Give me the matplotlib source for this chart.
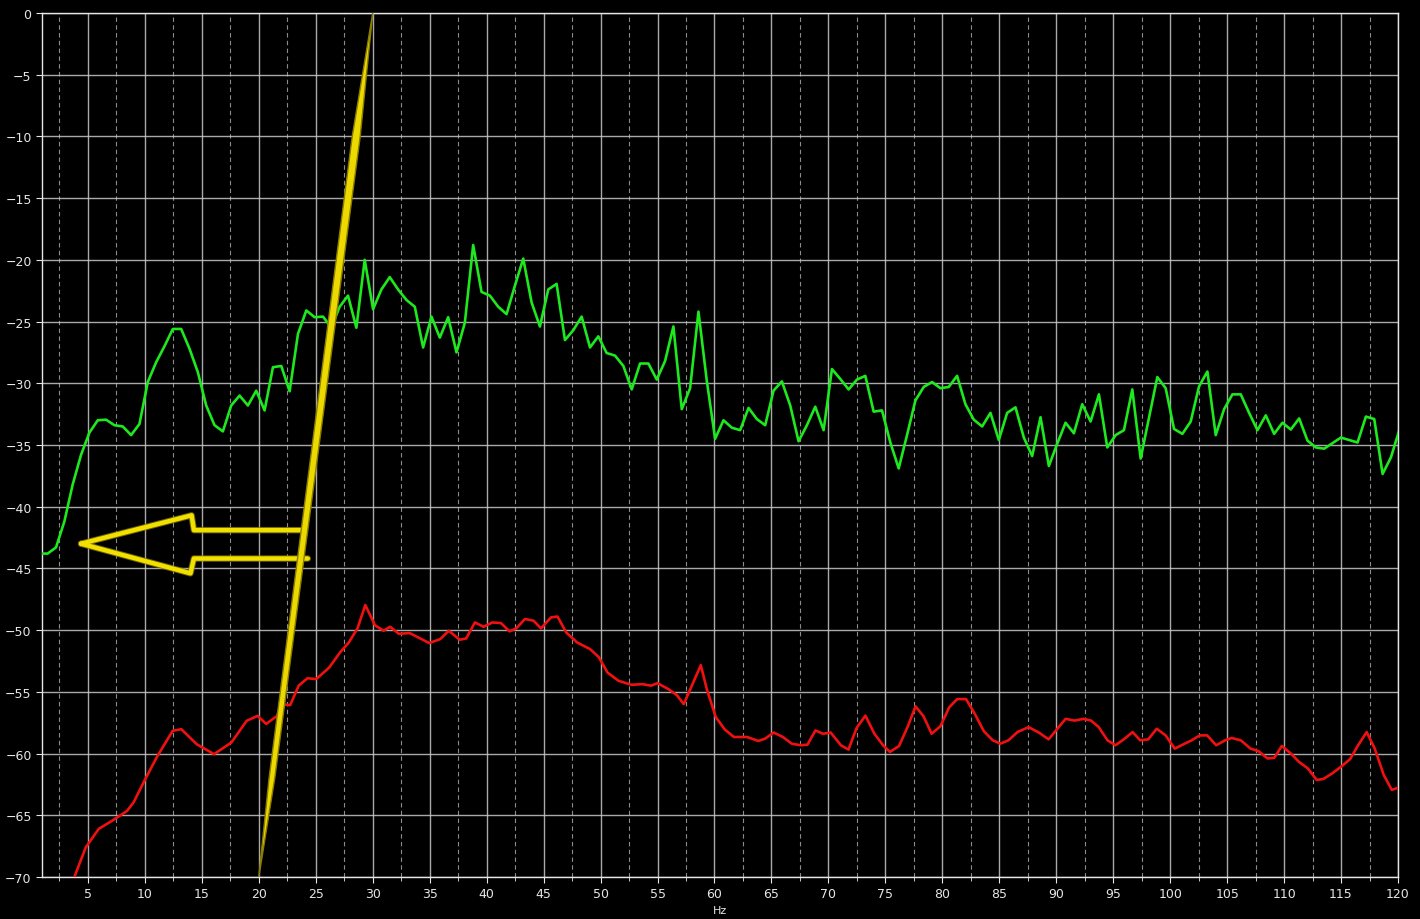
import numpy as np
import matplotlib
matplotlib.use("Agg")
import matplotlib.pyplot as plt
from matplotlib.ticker import MultipleLocator

# spectrum bin width (Hz) of the green trace
BIN_HZ = 0.7324

green_db = [
    -43.8, -43.8, -43.3, -41.2, -38.2, -35.8, -34.0, -33.0, -32.95, -33.4,
    -33.5, -34.2, -33.3, -29.9, -28.3, -27.0, -25.6, -25.6, -27.2, -29.1,
    -31.8, -33.4, -33.9, -31.8, -31.0, -31.8, -30.6, -32.2, -28.7, -28.6,
    -30.65, -26.0, -24.1, -24.65, -24.6, -25.5, -23.8, -22.9, -25.5, -20.0,
    -24.0, -22.4, -21.4, -22.4, -23.25, -23.8, -27.1, -24.6, -26.3, -24.65,
    -27.5, -25.1, -18.8, -22.6, -22.9, -23.8, -24.4, -22.1, -19.9, -23.45,
    -25.4, -22.4, -21.95, -26.5, -25.7, -24.6, -27.1, -26.2, -27.55, -27.76,
    -28.6, -30.5, -28.4, -28.4, -29.7, -28.2, -25.4, -32.1, -30.4, -24.2,
    -29.8, -34.5, -33.0, -33.6, -33.8, -32.0, -32.9, -33.4, -30.6, -29.85,
    -31.8, -34.7, -33.4, -31.9, -33.8, -28.85, -29.65, -30.5, -29.7, -29.4,
    -32.3, -32.2, -34.8, -36.9, -34.2, -31.4, -30.3, -29.9, -30.4, -30.3,
    -29.4, -31.7, -32.95, -33.5, -32.4, -34.6, -32.4, -31.95, -34.4, -35.9,
    -32.75, -36.7, -34.9, -33.2, -34.05, -31.7, -33.1, -30.9, -35.2, -34.2,
    -33.8, -30.5, -36.1, -32.8, -29.5, -30.4, -33.7, -34.1, -33.1, -30.25,
    -29.05, -34.2, -32.1, -30.9, -30.9, -32.4, -33.8, -32.6, -34.1, -33.2,
    -33.75, -32.85, -34.65, -35.2, -35.3, -34.85, -34.4, -34.6, -34.8, -32.7,
    -32.9, -37.35, -36.0, -33.8,
]
green_hz = BIN_HZ * np.arange(1, len(green_db) + 1)

red_hz = [
    3.85, 4.81, 5.95, 7.1, 8.43, 9.0, 9.96, 11.1, 12.44, 13.2,
    14.54, 16.07, 17.6, 18.93, 19.89, 20.65, 21.6, 21.98, 22.75, 23.5,
    24.27, 25.04, 26.18, 27.14, 27.9, 28.66, 29.35, 30.19, 30.95, 31.53,
    32.29, 33.24, 34.0, 34.96, 35.92, 36.68, 37.63, 38.2, 38.97, 39.73,
    40.5, 41.26, 42.0, 42.6, 43.36, 44.12, 44.77, 45.65, 46.22, 46.98,
    47.94, 49.08, 49.85, 50.6, 51.56, 52.7, 53.66, 54.43, 55.0, 55.95,
    56.7, 57.3, 58.8, 59.33, 60.12, 60.9, 61.7, 62.86, 63.84, 64.43,
    65.2, 66.0, 66.78, 67.57, 68.16, 68.86, 69.53, 70.2, 71.1, 71.76,
    72.47, 73.25, 74.04, 74.8, 75.4, 76.2, 76.98, 77.65, 78.35, 79.06,
    79.84, 80.6, 81.3, 82.08, 82.86, 83.65, 84.43, 85.1, 85.8, 86.6,
    87.57, 88.47, 89.33, 90.1, 90.82, 91.6, 92.4, 93.06, 93.73, 94.5,
    95.2, 96.0, 96.7, 97.37, 98.08, 98.82, 99.6, 100.4, 101.1, 101.88,
    102.6, 103.25, 104.04, 104.82, 105.4, 106.2, 107.06, 107.76, 108.55, 109.14,
    109.8, 110.6, 111.3, 112.08, 112.86, 113.45, 114.24, 115.0, 115.8, 116.5,
    117.25, 117.96, 118.75, 119.45, 120.1,
]
red_db = [
    -69.9, -67.6, -66.1, -65.46, -64.65, -63.97, -62.2, -60.2, -58.16, -58.03,
    -59.24, -60.05, -59.1, -57.35, -56.95, -57.6, -56.95, -56.0, -56.08, -54.5,
    -53.9, -53.97, -53.03, -51.8, -51.0, -49.86, -47.97, -49.6, -50.05, -49.73,
    -50.3, -50.24, -50.6, -51.05, -50.73, -50.05, -50.78, -50.68, -49.38, -49.73,
    -49.38, -49.43, -50.1, -49.86, -49.1, -49.24, -49.86, -48.97, -48.9, -50.19,
    -51.0, -51.54, -52.2, -53.43, -54.1, -54.43, -54.38, -54.5, -54.3, -54.78,
    -55.27, -56.0, -52.84, -54.8, -57.06, -58.05, -58.66, -58.66, -58.98, -58.8,
    -58.3, -58.66, -59.2, -59.33, -59.28, -58.13, -58.4, -58.3, -59.33, -59.68,
    -57.94, -56.93, -58.4, -59.33, -59.87, -59.39, -57.78, -56.18, -56.98, -58.4,
    -57.78, -56.26, -55.59, -55.59, -56.8, -58.2, -58.93, -59.2, -58.93, -58.26,
    -57.86, -58.3, -58.85, -57.99, -57.19, -57.33, -57.19, -57.33, -57.86, -58.93,
    -59.33, -58.8, -58.26, -58.93, -58.85, -57.99, -58.53, -59.6, -59.28, -58.93,
    -58.53, -58.53, -59.33, -58.93, -58.74, -58.93, -59.6, -59.81, -60.4, -60.35,
    -59.39, -60.0, -60.67, -61.2, -62.14, -62.06, -61.6, -61.07, -60.45, -59.33,
    -58.26, -59.6, -61.74, -62.94, -62.75,
]

# hand-drawn yellow annotation (data coords): slanted stroke + hollow left arrow
slash_x = [20.0, 20.9, 28.2, 30.0, 28.9, 21.4]
slash_y = [-70.0, -62.0, -10.0, 0.0, -10.0, -62.0]
arrow_upper_x = [24.0, 14.3, 14.1, 4.4]
arrow_upper_y = [-41.9, -41.9, -40.7, -43.0]
arrow_lower_x = [24.3, 14.3, 14.0, 4.4]
arrow_lower_y = [-44.2, -44.2, -45.4, -43.0]

FG = "#e6e6e6"

fig = plt.figure(figsize=(14.2, 9.2), dpi=100, facecolor="black")
ax = fig.add_axes([0.0296, 0.0457, 0.9549, 0.9391], facecolor="black")

ax.plot(green_hz, green_db, color="#1ee81e", lw=1.9, zorder=3)
ax.plot(red_hz, red_db, color="#f01010", lw=1.9, zorder=3)

# yellow annotation
for xs, ys in [(arrow_upper_x, arrow_upper_y), (arrow_lower_x, arrow_lower_y)]:
    ax.plot(xs, ys, color="#8a7d00", lw=4.6, solid_capstyle="round",
            solid_joinstyle="round", zorder=4, alpha=0.8)
    ax.plot(xs, ys, color="#f2e000", lw=3.2, solid_capstyle="round",
            solid_joinstyle="round", zorder=5)
ax.fill(slash_x, slash_y, facecolor="#ecd900", edgecolor="#8a7d00",
        lw=1.0, zorder=6)

ax.set_xlim(0.97, 120)
ax.set_ylim(-70, 0)
ax.xaxis.set_major_locator(MultipleLocator(5))
ax.xaxis.set_minor_locator(MultipleLocator(2.5))
ax.yaxis.set_major_locator(MultipleLocator(5))

ax.grid(which="major", color="#c8c8c8", lw=1.0, alpha=0.85, zorder=1)
ax.grid(which="minor", axis="x", color="#8c8c8c", lw=0.8, ls=(0, (4, 3)),
        zorder=1)
ax.set_axisbelow(True)

ax.tick_params(which="both", colors=FG, labelsize=9, direction="out")
ax.tick_params(which="major", length=4)
ax.tick_params(which="minor", length=3)
for sp in ax.spines.values():
    sp.set_color(FG)
    sp.set_linewidth(1.0)

ax.set_xlabel("Hz", color=FG, fontsize=8, labelpad=3)

fig.savefig("out.png", dpi=100, facecolor="black")
